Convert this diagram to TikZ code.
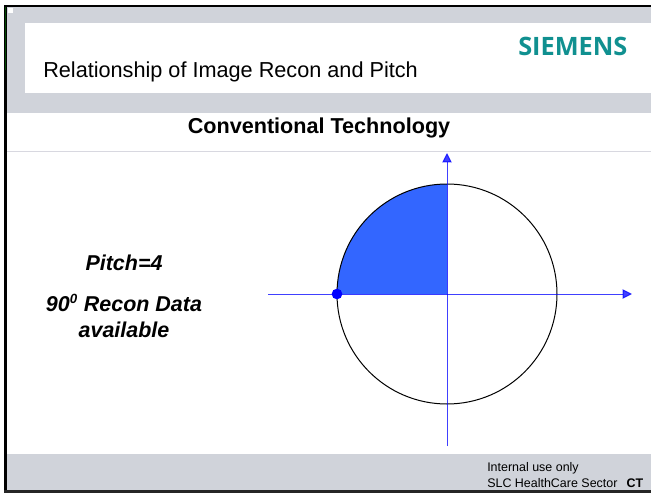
\documentclass[tikz,border=0pt]{standalone}
\usepackage{fontspec}
\setmainfont{Liberation Sans}
\newfontfamily\logofont{Open Sans}
\usetikzlibrary{arrows.meta}
\definecolor{band}{HTML}{D0D3DA}
\definecolor{rulegray}{HTML}{D8D8E0}
\definecolor{axisblue}{HTML}{0000FF}
\definecolor{wedge}{HTML}{3366FF}
\definecolor{logoteal}{HTML}{109090}
\tikzset{
  axisline/.style={draw=axisblue,opacity=.75,line width=.75pt,-{Triangle[length=7pt,width=7pt,color=axisblue]}},
  lbl/.style={inner sep=0pt,text=black},
  side/.style={lbl,font=\fontsize{16.1}{19.5}\selectfont\bfseries\itshape,align=center}
}
\begin{document}
\begin{tikzpicture}[x=0.75pt,y=-0.75pt]
\useasboundingbox (0,0) rectangle (651,493);
\fill[white] (0,0) rectangle (651,493);
% bands
\fill[band] (7,7) rectangle (651,113);
\fill[white] (25,23) rectangle (651,93);
\fill[white] (8,8) rectangle (13,13);
\fill[band] (7,454) rectangle (651,490);
\draw[rulegray,line width=.75pt] (7,151.3) -- (651,151.3);
% frame
\fill[black] (4,5) rectangle (651,7.3);
\fill[black] (4,5) rectangle (7,493);
\fill[black!85!white] (4,490.3) rectangle (651,493);
\fill[black!60!green!70!black] (4.5,7) rectangle (6,70);
% titles
\node[lbl,anchor=base west,font=\fontsize{16.25}{18}\selectfont] (title) at (43,77) {Relationship of Image Recon and Pitch};
\node[lbl,anchor=base,font=\fontsize{16.2}{18}\selectfont\bfseries] (sub) at (319,133) {Conventional Technology};
\node[lbl,anchor=base west,text=logoteal,font=\fontsize{19}{20}\logofont\bfseries] (logo) at (518,55) {SIEMENS};
% side text
\node[side,anchor=base] (pitch) at (124,270) {Pitch=4};
\node[side,anchor=center] (recon) at (124,316) {90\textsuperscript{\fontsize{10}{10}\selectfont 0} Recon Data\\available};
% footer
\node[lbl,anchor=base west,font=\fontsize{9.35}{10}\selectfont] (foot1) at (487,471) {Internal use only};
\node[lbl,anchor=base west,font=\fontsize{9.35}{10}\selectfont] (foot2) at (487,487) {SLC HealthCare Sector\ \ \,\textbf{CT}};
% diagram
\coordinate (c) at (447,294);
\coordinate (l) at (268,294);
\coordinate (r) at (632,294);
\coordinate (b) at (447,446);
\coordinate (t) at (447,153);
\fill[wedge] (c) -- (337,294) arc[start angle=180,end angle=90,radius=110*0.75pt] -- cycle;
\draw[black,line width=.75pt] (c) circle[radius=110*0.75pt];
\draw[axisline] (l) -- (r);
\draw[axisline] (b) -- (t);
\node[circle,fill=axisblue,inner sep=0pt,minimum size=8pt] (dot) at (337,294) {};
\end{tikzpicture}
\end{document}
